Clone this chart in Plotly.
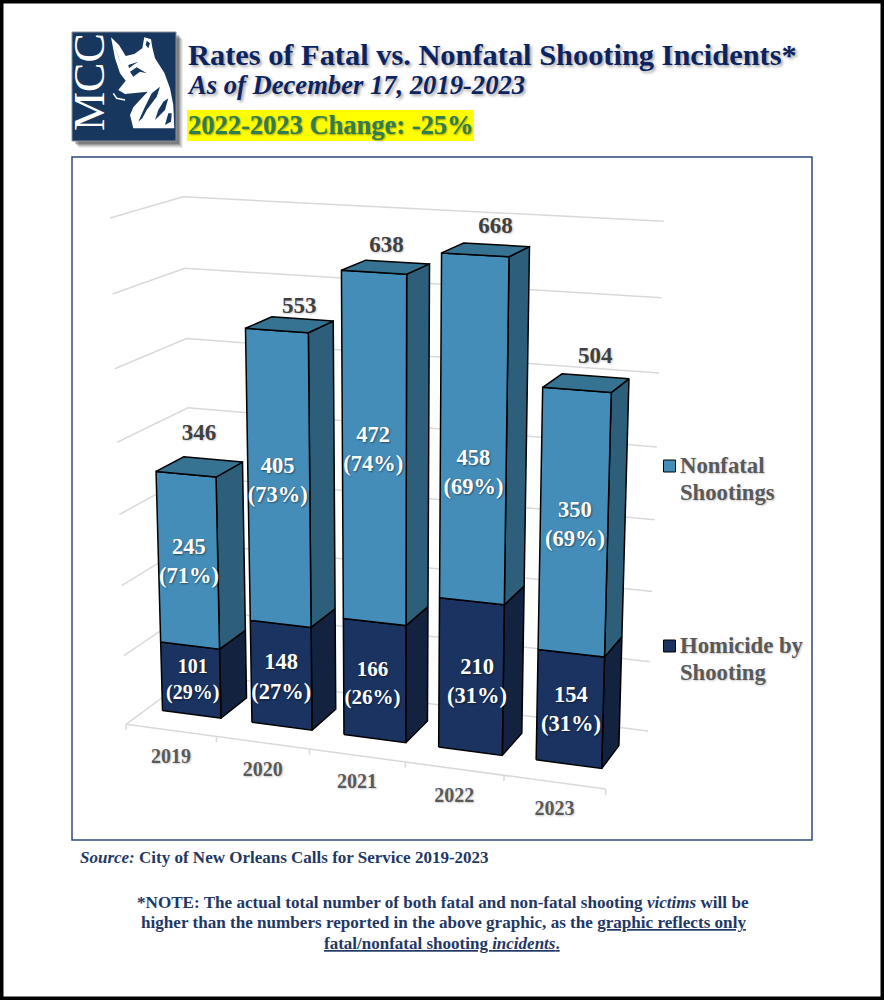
import numpy as np
import plotly.graph_objects as go

YEARS = ["2019", "2020", "2021", "2022", "2023"]
HOMICIDE = [101, 148, 166, 210, 154]
NONFATAL = [245, 405, 472, 458, 350]
HOMICIDE_PCT = ["29%", "27%", "26%", "31%", "31%"]
NONFATAL_PCT = ["71%", "73%", "74%", "69%", "69%"]
TOTALS = [346, 553, 638, 668, 504]
GRID_TICKS = [0, 100, 200, 300, 400, 500, 600, 700]

# Perspective camera of the 3-D chart: category x, depth y, value/100 -> page pixels
CAMERA = np.array([[87.353251, 80.582287, -3.169421, 126.009335],
                   [1.755974, -7.415061, -74.099191, 724.277905],
                   [-0.014192, 0.063606, -0.008133, 1.0]])
BAR_HALF = 0.328026
DEPTH_FRONT, DEPTH_BACK = 0.300276, 0.697767

NAVY = "#1F3864"
TITLE_NAVY = "#0B2461"
TILE = "#17375E"
C_NF = dict(front="#458DB9", side="#2D5F7A", top="#367291")
C_HO = dict(front="#1A3361", side="#12223F", top="#12223F")
GRID = "#D9D9D9"
SERIF = "Liberation Serif"
SH_W = "1px 1px 2px rgba(0,0,0,0.45)"
SH_D = "1px 1px 2px rgba(0,0,0,0.22)"


def project(x, y, value):
    v = CAMERA @ np.array([x, y, value / 100.0, 1.0])
    return float(v[0] / v[2]), float(v[1] / v[2])


def polyline(points):
    xy = [project(*p) for p in points]
    return [a for a, _ in xy], [b for _, b in xy]


fig = go.Figure()


def add_lines(segments, color, width):
    xs, ys = [], []
    for seg in segments:
        a, b = polyline(seg)
        xs += a + [None]
        ys += b + [None]
    fig.add_trace(go.Scatter(x=xs, y=ys, mode="lines", line=dict(color=color, width=width),
                             hoverinfo="skip", showlegend=False))


# walls, floor edge, ticks
segments = []
for v in GRID_TICKS:
    segments.append([(0, 0, v), (0, 1, v), (5, 1, v)])
segments.append([(0, 0, 0), (5, 0, 0)])
for k in range(6):
    segments.append([(k, 0, 0), (k, 0, -8)])
add_lines(segments, GRID, 1.5)


def add_face(corners, color):
    xs, ys = polyline(corners + corners[:1])
    fig.add_trace(go.Scatter(x=xs, y=ys, mode="lines", fill="toself", fillcolor=color,
                             line=dict(color="black", width=1.5), hoverinfo="skip", showlegend=False))


def add_box(i, low, high, colors, with_top):
    l, r = i + 0.5 - BAR_HALF, i + 0.5 + BAR_HALF
    f, b = DEPTH_FRONT, DEPTH_BACK
    add_face([(r, f, low), (r, b, low), (r, b, high), (r, f, high)], colors["side"])
    add_face([(l, f, low), (r, f, low), (r, f, high), (l, f, high)], colors["front"])
    if with_top:
        add_face([(l, f, high), (r, f, high), (r, b, high), (l, b, high)], colors["top"])


for i in range(len(YEARS)):
    add_box(i, 0, HOMICIDE[i], C_HO, False)
    add_box(i, HOMICIDE[i], HOMICIDE[i] + NONFATAL[i], C_NF, True)

# value labels, fine placement in pixels from each anchor
NF_SHIFT = [(1, 2), (-1, 2), (-1, 0), (0, 42), (1, 2)]
HO_SHIFT = [(2, 1), (0, 3), (-2, 4), (6, 6), (1, 2)]
TOTAL_SHIFT = [(-14, -25), (-3, -12), (-11, -16), (-1, -18), (0, -19)]
HO_SIZE = [20, 22.5, 21, 22.5, 22.5]
LABEL_SIZE = 22.5


def add_text(x, y, text, size, color, shadow, position="middle center"):
    fig.add_trace(go.Scatter(x=[x], y=[y], mode="text", text=[text], textposition=position,
                             textfont=dict(family=SERIF, size=size, color=color, weight="bold", shadow=shadow),
                             hoverinfo="skip", showlegend=False))


for i in range(len(YEARS)):
    zmid = HOMICIDE[i] + NONFATAL[i] / 2
    px, py = project(i + 0.5, DEPTH_FRONT, zmid)
    add_text(px + NF_SHIFT[i][0], py + NF_SHIFT[i][1], f"{NONFATAL[i]}<br>({NONFATAL_PCT[i]})", LABEL_SIZE, "white", SH_W)
    px, py = project(i + 0.5, DEPTH_FRONT, HOMICIDE[i] / 2)
    add_text(px + HO_SHIFT[i][0], py + HO_SHIFT[i][1], f"{HOMICIDE[i]}<br>({HOMICIDE_PCT[i]})", HO_SIZE[i], "white", SH_W)
    px, py = project(i + 0.5, DEPTH_BACK, TOTALS[i])
    add_text(px + TOTAL_SHIFT[i][0], py + TOTAL_SHIFT[i][1], str(TOTALS[i]), 23, "#404040", SH_D)
    px, py = project(i + 0.5, 0, 0)
    add_text(px, py + 28, YEARS[i], 20, "#595959", SH_D)

# legend keys and wording
LEGEND_NAMES = ["Nonfatal Shootings", "Homicide by Shooting"]
LEGEND_LINES = [["Nonfatal", "Shootings"], ["Homicide by", "Shooting"]]
LEGEND_COLORS = [C_NF["front"], C_HO["front"]]
LEGEND_ROWS = [466, 646]
for name, lines, color, row in zip(LEGEND_NAMES, LEGEND_LINES, LEGEND_COLORS, LEGEND_ROWS):
    fig.add_trace(go.Scatter(x=[669.5], y=[row], mode="markers", name=name, showlegend=False, hoverinfo="skip",
                             marker=dict(symbol="square", size=12, color=color, line=dict(color="black", width=1))))
    for k, line in enumerate(lines):
        add_text(680, row + 1.5 + k * 27, line, 22.7, "#595959", SH_D, position="middle right")

shapes = []
shapes.append(dict(type="rect", xref="x", yref="y", x0=0, x1=884, y0=0, y1=1000,
                   line=dict(color="black", width=7), fillcolor="white", layer="below"))
# logo shadow + tile
for off, op in ((7, 0.07), (6, 0.09), (5, 0.12), (4, 0.16), (3, 0.2)):
    shapes.append(dict(type="rect", xref="x", yref="y", x0=72 + off, x1=176 + off, y0=32 + off, y1=141 + off,
                       line=dict(width=0), fillcolor=f"rgba(0,0,0,{op})", layer="below"))
shapes.append(dict(type="rect", xref="x", yref="y", x0=72, x1=176, y0=32, y1=141,
                   line=dict(color="#8A8F99", width=1), fillcolor=TILE, layer="below"))


def zpath(pts, close=True):
    body = " L ".join(f"{105 + a / 3:.1f},{30 + b / 3:.1f}" for a, b in pts)
    return "M " + body + (" Z" if close else "")


dog = [(18, 22), (42, 45), (62, 78), (88, 72), (112, 55), (118, 22), (138, 28), (142, 52), (150, 85), (178, 128),
       (195, 175), (205, 225), (208, 295), (85, 295), (75, 255), (85, 232), (100, 215), (128, 185), (60, 192),
       (40, 180), (62, 152), (45, 130), (30, 85)]
details = [
    [(75, 125), (95, 112), (125, 130), (105, 125), (85, 140)],
    [(70, 105), (100, 95), (85, 105), (72, 115)],
    [(140, 190), (165, 170), (155, 200), (125, 240), (112, 265), (100, 275), (120, 230)],
    [(175, 215), (190, 205), (180, 240), (150, 270), (160, 240)],
    [(190, 250), (200, 250), (198, 275), (180, 285)],
    [(125, 32), (135, 40), (130, 55), (122, 45)],
    [(28, 50), (38, 75), (48, 105), (40, 78)],
]
shapes.append(dict(type="path", xref="x", yref="y", path=zpath(dog), fillcolor="white", line=dict(width=0), layer="below"))
for d in details:
    shapes.append(dict(type="path", xref="x", yref="y", path=zpath(d), fillcolor=TILE, line=dict(width=0), layer="below"))
shapes.append(dict(type="path", xref="x", yref="y", path=zpath([(25, 190), (35, 205), (60, 210)], close=False),
                   line=dict(color="white", width=1.5), layer="below"))
# yellow highlight and chart frame
shapes.append(dict(type="rect", xref="x", yref="y", x0=187, x1=474, y0=110, y1=141,
                   line=dict(width=0), fillcolor="#FFFF00", layer="below"))
shapes.append(dict(type="rect", xref="x", yref="y", x0=72, x1=812, y0=157, y1=840,
                   line=dict(color="#2F4A7E", width=1.5), layer="below"))


def note(x, y, text, size, color=NAVY, anchor="left", shadow="none", **kw):
    return dict(xref="x", yref="y", x=x, y=y, text=text, showarrow=False, xanchor=anchor, yanchor="middle",
                font=dict(family=SERIF, size=size, color=color, weight=kw.pop("weight", "bold"), shadow=shadow), **kw)


TITLE_SH = "2px 2px 3px rgba(0,0,0,0.35)"
annotations = [
    note(186, 55, "Rates of Fatal vs. Nonfatal Shooting Incidents*", 30.4, TITLE_NAVY, shadow=TITLE_SH),
    note(185, 85, "<i>As of December 17, 2019-2023</i>", 26.6, TITLE_NAVY, shadow=TITLE_SH),
    note(186, 125, "2022-2023 Change: -25%", 26.5, "#2E7D55", shadow="1px 1px 2px rgba(0,0,0,0.4)"),
    note(89, 82, "MCC", 44, "white", anchor="center", textangle=-90, weight="normal"),
    note(78, 857, "<i>Source:</i> City of New Orleans Calls for Service 2019-2023", 17),
    note(443, 902, "*NOTE: The actual total number of both fatal and non-fatal shooting <i>victims</i> will be", 17.1, anchor="center"),
    note(443, 922, "higher than the numbers reported in the above graphic, as the <u>graphic reflects only</u>", 17.1, anchor="center"),
    note(442, 943, "<u>fatal/nonfatal shooting <i>incidents</i>.</u>", 17, anchor="center"),
]

fig.update_layout(
    width=884, height=1000, margin=dict(l=0, r=0, t=0, b=0), paper_bgcolor="white", plot_bgcolor="white",
    xaxis=dict(range=[0, 884], visible=False, fixedrange=True),
    yaxis=dict(range=[1000, 0], visible=False, fixedrange=True),
    showlegend=False, shapes=shapes, annotations=annotations, hovermode=False,
)
fig.write_html("out.html", post_script="document.body.style.margin='0';", config=dict(displayModeBar=False))
